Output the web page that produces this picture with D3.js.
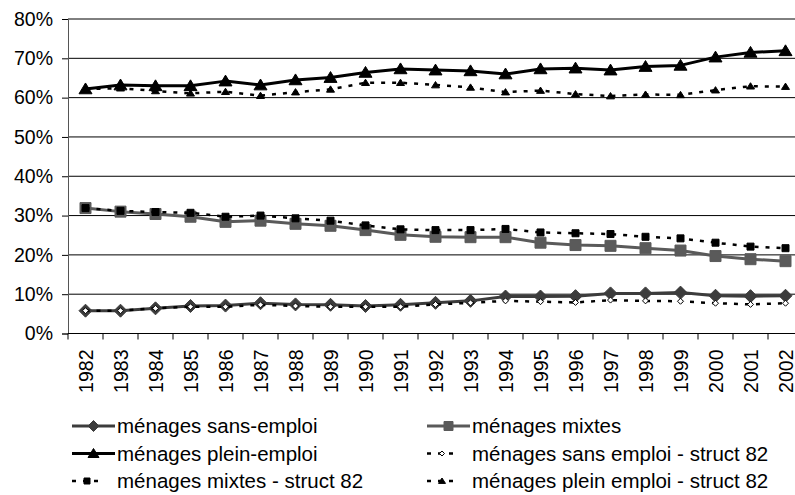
<!DOCTYPE html>
<html>
<head>
<meta charset="utf-8">
<script src="https://cdn.jsdelivr.net/npm/d3@7"></script>
<style>
  body { margin: 0; background: #fff; }
  svg { display: block; font-family: "Liberation Sans", Arial, sans-serif; }
</style>
</head>
<body>
<svg id="chart" width="795" height="495"></svg>
<script>
var years = ["1982","1983","1984","1985","1986","1987","1988","1989","1990","1991","1992",
             "1993","1994","1995","1996","1997","1998","1999","2000","2001","2002"]
var yTicks = [0, 0.1, 0.2, 0.3, 0.4, 0.5, 0.6, 0.7, 0.8]

var sansEmploi = [5.8, 5.8, 6.4, 7.0, 7.1, 7.7, 7.4, 7.3, 7.0, 7.3, 7.8, 8.3, 9.4, 9.4, 9.5, 10.2, 10.2, 10.4, 9.6, 9.5, 9.6]
var mixtes = [31.9, 31.0, 30.4, 29.7, 28.4, 28.7, 27.9, 27.4, 26.3, 25.1, 24.6, 24.5, 24.5, 23.1, 22.5, 22.3, 21.7, 21.1, 19.7, 18.9, 18.4]
var pleinEmploi = [62.2, 63.2, 63.0, 63.0, 64.2, 63.2, 64.5, 65.1, 66.4, 67.3, 67.0, 66.8, 66.0, 67.3, 67.5, 67.0, 67.9, 68.2, 70.3, 71.5, 71.9]
var sansEmploi82 = [5.8, 5.8, 6.4, 6.8, 6.8, 7.3, 7.0, 6.8, 6.8, 6.8, 7.4, 7.8, 8.3, 8.1, 7.9, 8.5, 8.3, 8.2, 7.7, 7.4, 7.7]
var mixtes82 = [31.9, 31.2, 30.9, 30.7, 29.7, 30.0, 29.3, 28.7, 27.5, 26.5, 26.3, 26.3, 26.6, 25.7, 25.5, 25.3, 24.6, 24.2, 23.1, 22.1, 21.7]
var pleinEmploi82 = [62.2, 62.4, 61.7, 61.1, 61.5, 60.5, 61.4, 62.1, 63.8, 63.8, 63.2, 62.6, 61.4, 61.8, 60.9, 60.4, 60.8, 60.7, 61.9, 62.9, 62.8]

var seriesNames = ["ménages sans-emploi", "ménages mixtes", "ménages plein-emploi",
                   "ménages sans emploi - struct 82", "ménages mixtes - struct 82", "ménages plein emploi - struct 82"]

var series = [
  { name: seriesNames[0], values: sansEmploi, color: "#3c3c3c", dash: null, width: 3, shape: "diamond", size: 13, fill: "#3c3c3c" },
  { name: seriesNames[1], values: mixtes, color: "#5a5a5a", dash: null, width: 3, shape: "square", size: 11, fill: "#5a5a5a" },
  { name: seriesNames[2], values: pleinEmploi, color: "#000", dash: null, width: 3, shape: "triangle", size: 12, fill: "#000" },
  { name: seriesNames[3], values: sansEmploi82, color: "#000", dash: "4,7", width: 2.5, shape: "diamond", size: 6, fill: "#fff" },
  { name: seriesNames[4], values: mixtes82, color: "#000", dash: "4,7", width: 2.5, shape: "square", size: 7, fill: "#000" },
  { name: seriesNames[5], values: pleinEmploi82, color: "#000", dash: "4,7", width: 2.5, shape: "triangle", size: 7, fill: "#000" }
]

var svg = d3.select("#chart")
var plotLeft = 68, plotTop = 19, plotBottom = 333.5, plotRight = 803

var x = d3.scaleBand().domain(years).range([plotLeft, plotRight]).padding(0)
var y = d3.scaleLinear().domain([0, 0.8]).range([plotBottom, plotTop])

function markerPath(shape, s) {
  var h = s / 2
  if (shape == "diamond") return "M0," + (-h) + "L" + h + ",0L0," + h + "L" + (-h) + ",0Z"
  if (shape == "square") return "M" + (-h) + "," + (-h) + "h" + s + "v" + s + "h" + (-s) + "Z"
  // triangle
  return "M0," + (-h) + "L" + (h + 0.5) + "," + (h * 0.8) + "L" + (-h - 0.5) + "," + (h * 0.8) + "Z"
}

// gridlines
svg.append("g").selectAll("line").data(yTicks.slice(1)).enter().append("line")
  .attr("x1", plotLeft).attr("x2", 795)
  .attr("y1", function(d) { return y(d) }).attr("y2", function(d) { return y(d) })
  .attr("stroke", "#000").attr("stroke-width", 1)

// y axis
var yAxis = d3.axisLeft(y).tickValues(yTicks).tickFormat(d3.format(".0%")).tickSizeOuter(0).tickSize(6).tickPadding(9)
var gy = svg.append("g").attr("transform", "translate(" + plotLeft + ",0)").call(yAxis)
gy.select(".domain").attr("stroke", "#555")
gy.selectAll("text").attr("font-size", 19.5).attr("fill", "#000").attr("font-family", null)

// x axis: ticks between categories
var gx = svg.append("g").attr("transform", "translate(0," + plotBottom + ")")
gx.append("line").attr("x1", plotLeft).attr("x2", 795).attr("y1", 0).attr("y2", 0).attr("stroke", "#000")
gx.selectAll(".tk").data(years).enter().append("line").attr("class", "tk")
  .attr("x1", function(d) { return x(d) }).attr("x2", function(d) { return x(d) })
  .attr("y1", 0).attr("y2", 6).attr("stroke", "#000")
gx.selectAll(".lbl").data(years).enter().append("text").attr("class", "lbl")
  .attr("transform", function(d) { return "translate(" + (x(d) + x.bandwidth() / 2 + 7) + ",16) rotate(-90)" })
  .attr("text-anchor", "end")
  .attr("font-size", 19.5)
  .text(function(d) { return d })

// lines + markers
var line = d3.line()
  .x(function(d, i) { return x(years[i]) + x.bandwidth() / 2 })
  .y(function(d) { return y(d / 100) })

series.forEach(function(s) {
  var g = svg.append("g")
  g.append("path").datum(s.values).attr("d", line)
    .attr("fill", "none").attr("stroke", s.color).attr("stroke-width", s.width)
    .attr("stroke-dasharray", s.dash).attr("stroke-linejoin", "round")
  g.selectAll("path.m").data(s.values).enter().append("path").attr("class", "m")
    .attr("transform", function(d, i) { return "translate(" + (x(years[i]) + x.bandwidth() / 2) + "," + y(d / 100) + ")" })
    .attr("d", markerPath(s.shape, s.size))
    .attr("fill", s.fill).attr("stroke", s.dash ? "#000" : s.color).attr("stroke-width", 1)
})

// legend
var legCols = [72, 427]
var legRows = [426, 453.5, 481]
series.forEach(function(s, i) {
  var lx = legCols[i % 2], ly = legRows[Math.floor(i / 2)]
  var g = svg.append("g").attr("transform", "translate(" + lx + "," + ly + ")")
  if (s.dash) {
    g.append("line").attr("x1", 0).attr("x2", 30).attr("y1", 0).attr("y2", 0)
      .attr("stroke", s.color).attr("stroke-width", s.width).attr("stroke-dasharray", s.dash)
    g.append("path").attr("transform", "translate(15,0)").attr("d", markerPath(s.shape, s.size - 1))
      .attr("fill", s.fill).attr("stroke", "#000").attr("stroke-width", 1)
  } else {
    g.append("line").attr("x1", 0).attr("x2", 43).attr("y1", 0).attr("y2", 0)
      .attr("stroke", s.color).attr("stroke-width", s.width)
    g.append("path").attr("transform", "translate(21.5,0)").attr("d", markerPath(s.shape, s.size - 2))
      .attr("fill", s.fill).attr("stroke", s.color).attr("stroke-width", 1)
  }
  g.append("text").attr("x", 45).attr("y", 7).attr("font-size", 20.5).text(s.name)
})
</script>
</body>
</html>
